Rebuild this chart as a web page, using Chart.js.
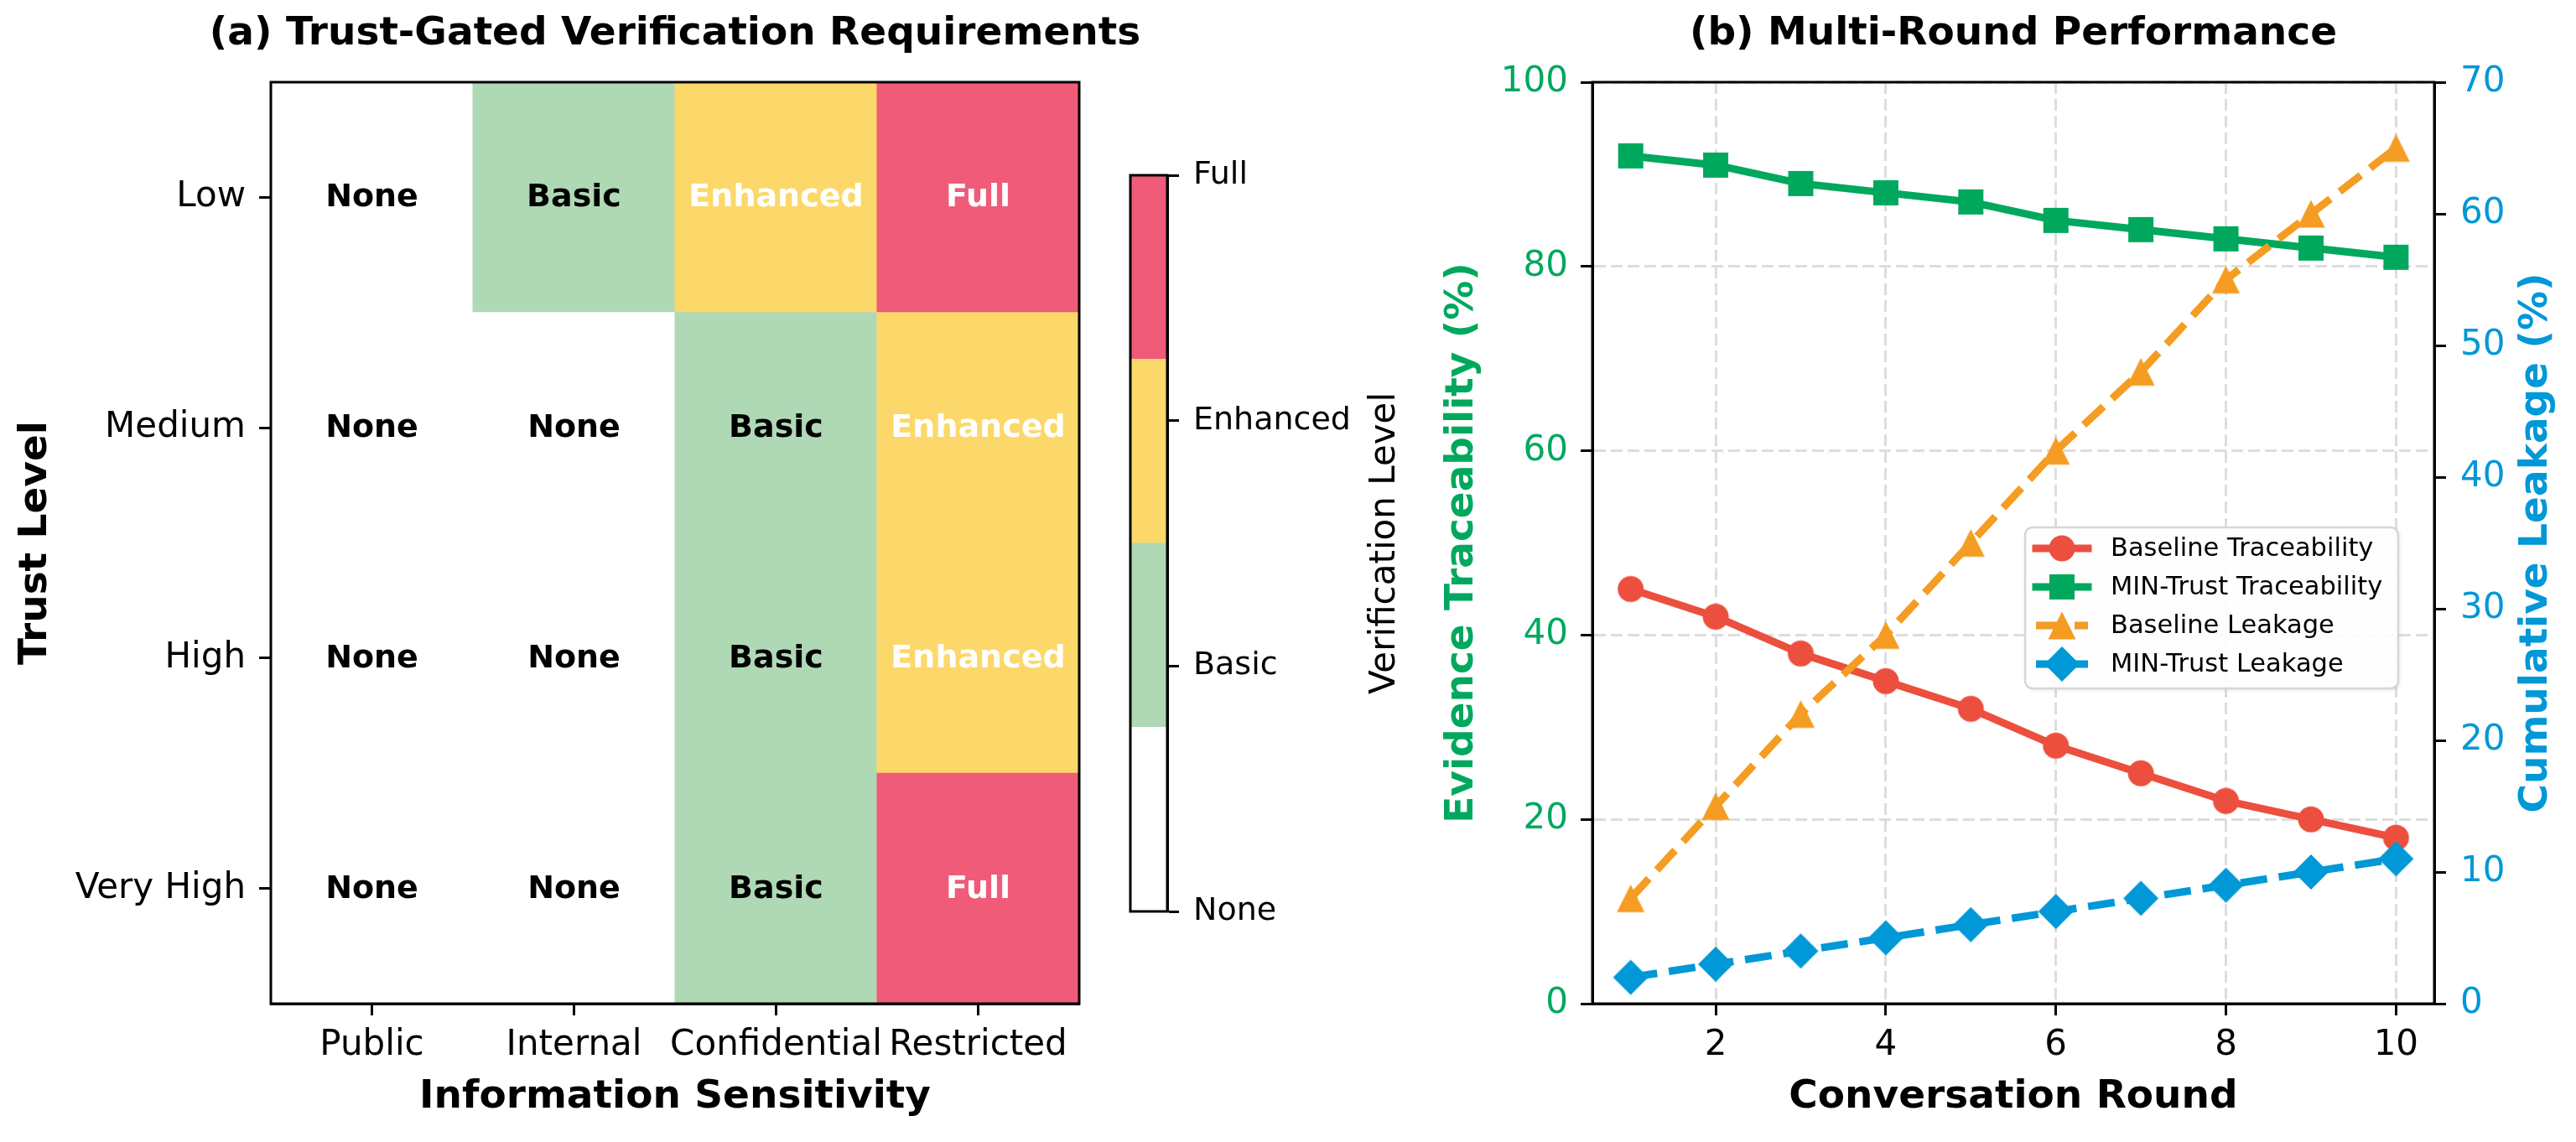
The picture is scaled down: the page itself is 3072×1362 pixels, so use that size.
<!DOCTYPE html>
<html>
<head>
<meta charset="utf-8">
<script src="https://cdn.jsdelivr.net/npm/chart.js@4.4.0/dist/chart.umd.min.js"></script>
<style>
html,body{margin:0;padding:0;background:#ffffff;}
#wrap{position:relative;width:3072px;height:1362px;overflow:hidden;background:#ffffff;}
#wrap canvas{position:absolute;top:0;}
</style>
</head>
<body>
<div id="wrap">
<canvas id="heat" width="1420" height="1362" style="left:0px;width:1420px;height:1362px"></canvas>
<canvas id="cbar" width="340" height="1362" style="left:1340px;width:340px;height:1362px"></canvas>
<canvas id="line" width="1392" height="1362" style="left:1680px;width:1392px;height:1362px"></canvas>
</div>
<script>
// ---------------- DATA ----------------
const sensitivityLabels = ['Public', 'Internal', 'Confidential', 'Restricted'];
const trustLabels = ['Low', 'Medium', 'High', 'Very High'];
const levelNames = ['None', 'Basic', 'Enhanced', 'Full'];
// verification level per sensitivity column (0=None,1=Basic,2=Enhanced,3=Full)
const reqLow = [0, 1, 2, 3];
const reqMedium = [0, 0, 1, 2];
const reqHigh = [0, 0, 1, 2];
const reqVeryHigh = [0, 0, 1, 3];

const rounds = [1, 2, 3, 4, 5, 6, 7, 8, 9, 10];
const baselineTraceability = [45, 42, 38, 35, 32, 28, 25, 22, 20, 18];
const minTrustTraceability = [92, 91, 89, 88, 87, 85, 84, 83, 82, 81];
const baselineLeakage = [8, 15, 22, 28, 35, 42, 48, 55, 60, 65];
const minTrustLeakage = [2, 3, 4, 5, 6, 7, 8, 9, 10, 11];

const roundTicks = [2, 4, 6, 8, 10];
const traceTicks = [0, 20, 40, 60, 80, 100];
const leakTicks = [0, 10, 20, 30, 40, 50, 60, 70];
const levelTicks = [0, 1, 2, 3];

// ---------------- STYLE ----------------
const FONT = 'DejaVu Sans';
const levelColors = ['#FFFFFF', '#AFD9B5', '#FCD86A', '#EF5B79'];
const levelTextColors = ['#000000', '#000000', '#FFFFFF', '#FFFFFF'];
const RED = '#EC4F3E', GREEN = '#00A85E', ORANGE = '#F59C22', BLUE = '#0098D6';
const GRID = '#DDDDDD';

Chart.defaults.font.family = FONT;
Chart.defaults.color = '#000';

function frameAndTitle(title) {
  return {
    id: 'frameTitle',
    afterDraw(chart) {
      const {ctx, chartArea: a} = chart;
      ctx.save();
      ctx.strokeStyle = '#000';
      ctx.lineWidth = 3;
      ctx.strokeRect(a.left, a.top, a.right - a.left, a.bottom - a.top);
      if (title) {
        ctx.fillStyle = '#000';
        ctx.font = 'bold 47px "' + FONT + '"';
        ctx.textAlign = 'center';
        ctx.textBaseline = 'middle';
        ctx.fillText(title, (a.left + a.right) / 2, 41);
      }
      ctx.restore();
    }
  };
}

// ---------------- HEATMAP ----------------
const heatRows = [
  {name: 'Very High', vals: reqVeryHigh},
  {name: 'High', vals: reqHigh},
  {name: 'Medium', vals: reqMedium},
  {name: 'Low', vals: reqLow}
];

const cellTextPlugin = {
  id: 'cellText',
  afterDatasetsDraw(chart) {
    const ctx = chart.ctx;
    ctx.save();
    ctx.font = 'bold 38px "' + FONT + '"';
    ctx.textAlign = 'center';
    ctx.textBaseline = 'middle';
    chart.data.datasets.forEach((ds, di) => {
      const meta = chart.getDatasetMeta(di);
      meta.data.forEach((bar, i) => {
        const lv = ds.levels[i];
        ctx.fillStyle = levelTextColors[lv];
        ctx.fillText(levelNames[lv], bar.x, (bar.y + bar.base) / 2 + 1);
      });
    });
    ctx.restore();
  }
};

new Chart(document.getElementById('heat'), {
  type: 'bar',
  data: {
    labels: sensitivityLabels,
    datasets: heatRows.map(r => ({
      label: r.name,
      data: r.vals.map(() => 1),
      levels: r.vals,
      backgroundColor: r.vals.map(v => levelColors[v]),
      borderWidth: 0,
      barPercentage: 1,
      categoryPercentage: 1,
      inflateAmount: 0.5
    }))
  },
  options: {
    responsive: false,
    animation: false,
    devicePixelRatio: 1,
    layout: {padding: {top: 98, right: 133, left: 0, bottom: 0}},
    plugins: {legend: {display: false}, tooltip: {enabled: false}},
    scales: {
      x: {
        stacked: true,
        grid: {drawOnChartArea: false, offset: false, tickLength: 14, tickWidth: 3, tickColor: '#000'},
        border: {display: true, color: '#000', width: 3},
        ticks: {font: {size: 42}, color: '#000', padding: 11, maxRotation: 0, autoSkip: false},
        title: {display: true, text: 'Information Sensitivity', font: {size: 47, weight: 'bold'}, color: '#000', padding: {top: 0, bottom: 25}},
        afterFit(s) { s.height = 165; }
      },
      y: {
        stacked: true,
        min: 0, max: 4,
        afterBuildTicks(s) { s.ticks = [0.5, 1.5, 2.5, 3.5].map(v => ({value: v})); },
        grid: {drawOnChartArea: false, tickLength: 14, tickWidth: 3, tickColor: '#000'},
        border: {display: true, color: '#000', width: 3},
        ticks: {font: {size: 42}, color: '#000', padding: 16, callback: v => trustLabels[3 - Math.floor(v)]},
        title: {display: true, text: 'Trust Level', font: {size: 47, weight: 'bold'}, color: '#000', padding: {top: 15, bottom: 0}},
        afterFit(s) { s.width = 323; }
      }
    }
  },
  plugins: [cellTextPlugin, frameAndTitle('(a) Trust-Gated Verification Requirements')]
});

// ---------------- COLORBAR ----------------
const cbarLabelPlugin = {
  id: 'cbarLabel',
  afterDraw(chart) {
    const {ctx, chartArea: a} = chart;
    ctx.save();
    ctx.fillStyle = '#000';
    ctx.font = '42px "' + FONT + '"';
    ctx.textAlign = 'center';
    ctx.textBaseline = 'middle';
    ctx.translate(312, (a.top + a.bottom) / 2);
    ctx.rotate(-Math.PI / 2);
    ctx.fillText('Verification Level', 0, 0);
    ctx.restore();
  }
};

new Chart(document.getElementById('cbar'), {
  type: 'bar',
  data: {
    labels: [''],
    datasets: levelNames.map((n, i) => ({
      label: n,
      data: [0.75],
      backgroundColor: levelColors[i],
      borderWidth: 0,
      barPercentage: 1,
      categoryPercentage: 1,
      inflateAmount: 0.5
    }))
  },
  options: {
    responsive: false,
    animation: false,
    devicePixelRatio: 1,
    layout: {padding: {top: 209, bottom: 275, left: 8, right: 0}},
    plugins: {legend: {display: false}, tooltip: {enabled: false}},
    scales: {
      x: {stacked: true, display: false},
      y: {
        stacked: true,
        position: 'right',
        min: 0, max: 3,
        afterBuildTicks(s) { s.ticks = levelTicks.map(v => ({value: v})); },
        grid: {drawOnChartArea: false, tickLength: 14, tickWidth: 3, tickColor: '#000'},
        border: {display: true, color: '#000', width: 3},
        ticks: {font: {size: 38}, color: '#000', padding: 17, callback: v => levelNames[v]},
        afterFit(s) { s.width = 288; }
      }
    }
  },
  plugins: [frameAndTitle(null), cbarLabelPlugin]
});

// ---------------- LINE CHART ----------------
function makeMarker(shape, color) {
  const c = document.createElement('canvas');
  c.width = 48; c.height = 48;
  const g = c.getContext('2d');
  g.fillStyle = color;
  g.translate(24, 24);
  g.beginPath();
  if (shape === 'circle') g.arc(0, 0, 15.5, 0, Math.PI * 2);
  else if (shape === 'square') g.rect(-15, -15, 30, 30);
  else if (shape === 'triangle') { g.moveTo(0, -16.5); g.lineTo(16.5, 16.5); g.lineTo(-16.5, 16.5); g.closePath(); }
  else if (shape === 'diamond') { g.moveTo(0, -21); g.lineTo(21, 0); g.lineTo(0, 21); g.lineTo(-21, 0); g.closePath(); }
  g.fill();
  return c;
}

function series(label, values, color, shape, axis, dashed, order) {
  return {
    label: label,
    data: rounds.map((r, i) => ({x: r, y: values[i]})),
    yAxisID: axis,
    borderColor: color,
    backgroundColor: color,
    borderWidth: 9,
    borderDash: dashed ? [32, 14] : [],
    borderCapStyle: 'butt',
    borderJoinStyle: 'round',
    pointStyle: makeMarker(shape, color),
    pointRadius: 16,
    pointHoverRadius: 16,
    tension: 0,
    fill: false,
    order: order,
    dashed: dashed
  };
}

const legendPlugin = {
  id: 'boxLegend',
  afterDraw(chart) {
    const ctx = chart.ctx;
    const bx = 735, by = 629, bw = 445, bh = 192, r = 9;
    ctx.save();
    ctx.beginPath();
    ctx.moveTo(bx + r, by);
    ctx.arcTo(bx + bw, by, bx + bw, by + bh, r);
    ctx.arcTo(bx + bw, by + bh, bx, by + bh, r);
    ctx.arcTo(bx, by + bh, bx, by, r);
    ctx.arcTo(bx, by, bx + bw, by, r);
    ctx.closePath();
    ctx.shadowColor = 'rgba(0,0,0,0.10)';
    ctx.shadowBlur = 5;
    ctx.shadowOffsetX = 2;
    ctx.shadowOffsetY = 2;
    ctx.fillStyle = 'rgba(255,255,255,0.92)';
    ctx.fill();
    ctx.shadowColor = 'transparent';
    ctx.strokeStyle = '#D6D6D6';
    ctx.lineWidth = 2.5;
    ctx.stroke();
    chart.data.datasets.forEach((ds, i) => {
      const y = 654 + i * 46;
      ctx.beginPath();
      ctx.strokeStyle = ds.borderColor;
      ctx.lineWidth = 9;
      ctx.setLineDash(ds.dashed ? [32, 14] : []);
      ctx.lineCap = ds.dashed ? 'butt' : 'square';
      ctx.moveTo(748, y);
      ctx.lineTo(810, y);
      ctx.stroke();
      ctx.setLineDash([]);
      const m = ds.pointStyle;
      ctx.drawImage(m, 779 - m.width / 2, y - m.height / 2);
      ctx.fillStyle = '#000';
      ctx.font = '30.5px "' + FONT + '"';
      ctx.textAlign = 'left';
      ctx.textBaseline = 'middle';
      ctx.fillText(ds.label, 837, y + 1);
    });
    ctx.restore();
  }
};

const rightTitlePlugin = {
  id: 'rightTitle',
  afterDraw(chart) {
    const {ctx, chartArea: a} = chart;
    ctx.save();
    ctx.fillStyle = BLUE;
    ctx.font = 'bold 47px "' + FONT + '"';
    ctx.textAlign = 'center';
    ctx.textBaseline = 'middle';
    ctx.translate(3025 - 1680, (a.top + a.bottom) / 2);
    ctx.rotate(-Math.PI / 2);
    ctx.fillText('Cumulative Leakage (%)', 0, 0);
    ctx.restore();
  }
};

new Chart(document.getElementById('line'), {
  type: 'line',
  data: {
    datasets: [
      series('Baseline Traceability', baselineTraceability, RED, 'circle', 'y', false, 4),
      series('MIN-Trust Traceability', minTrustTraceability, GREEN, 'square', 'y', false, 3),
      series('Baseline Leakage', baselineLeakage, ORANGE, 'triangle', 'y1', true, 2),
      series('MIN-Trust Leakage', minTrustLeakage, BLUE, 'diamond', 'y1', true, 1)
    ]
  },
  options: {
    responsive: false,
    animation: false,
    devicePixelRatio: 1,
    layout: {padding: {top: 98, right: 0, left: 0, bottom: 0}},
    plugins: {legend: {display: false}, tooltip: {enabled: false}},
    scales: {
      x: {
        type: 'linear',
        min: 0.55, max: 10.45,
        afterBuildTicks(s) { s.ticks = roundTicks.map(v => ({value: v})); },
        grid: {color: GRID, lineWidth: 3, tickLength: 14, tickWidth: 3, tickColor: '#000', tickBorderDash: []},
        border: {display: true, color: '#000', width: 3, dash: [14, 6]},
        ticks: {font: {size: 42}, color: '#000', padding: 11, maxRotation: 0},
        title: {display: true, text: 'Conversation Round', font: {size: 47, weight: 'bold'}, color: '#000', padding: {top: 0, bottom: 25}},
        afterFit(s) { s.height = 165; }
      },
      y: {
        position: 'left',
        min: 0, max: 100,
        afterBuildTicks(s) { s.ticks = traceTicks.map(v => ({value: v})); },
        grid: {color: GRID, lineWidth: 3, tickLength: 14, tickWidth: 3, tickColor: '#000', tickBorderDash: []},
        border: {display: true, color: '#000', width: 3, dash: [14, 6]},
        ticks: {font: {size: 42}, color: GREEN, padding: 15},
        title: {display: true, text: 'Evidence Traceability (%)', font: {size: 47, weight: 'bold'}, color: GREEN, padding: {top: 36, bottom: 0}},
        afterFit(s) { s.width = 219; }
      },
      y1: {
        position: 'right',
        min: 0, max: 70,
        afterBuildTicks(s) { s.ticks = leakTicks.map(v => ({value: v})); },
        grid: {drawOnChartArea: false, tickLength: 14, tickWidth: 3, tickColor: '#000'},
        border: {display: true, color: '#000', width: 3},
        ticks: {font: {size: 42}, color: BLUE, padding: 17},
        title: {display: false},
        afterFit(s) { s.width = 169; }
      }
    }
  },
  plugins: [frameAndTitle('(b) Multi-Round Performance'), legendPlugin, rightTitlePlugin]
});
</script>
</body>
</html>
